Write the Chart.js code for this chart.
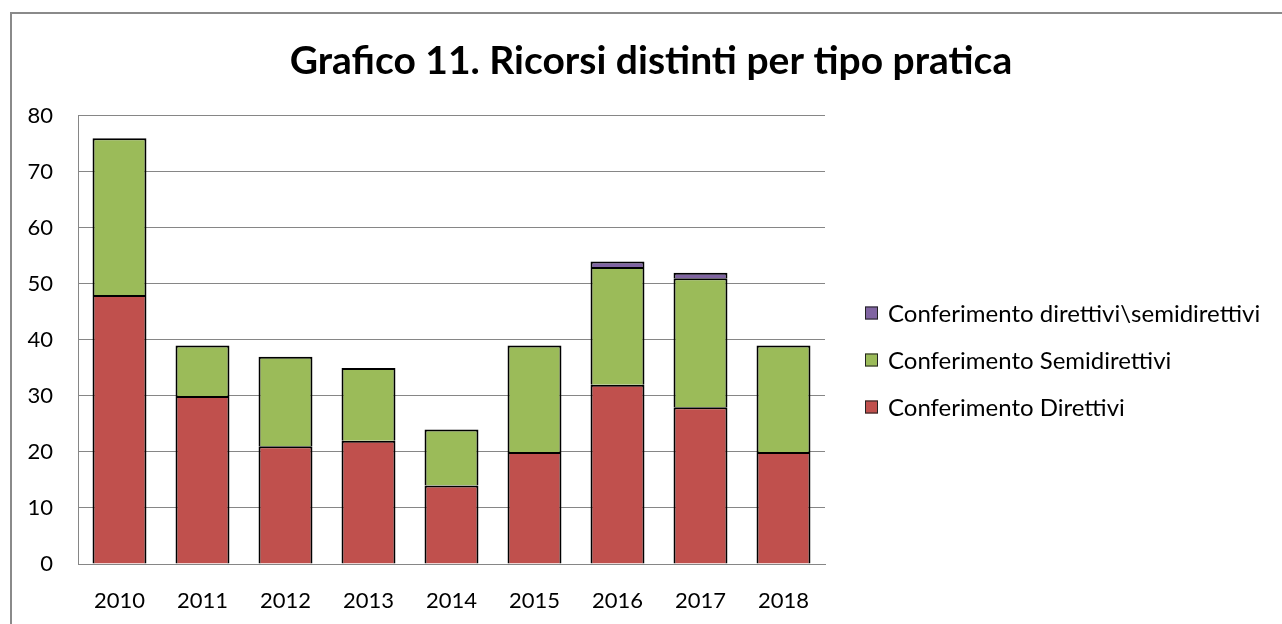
<!DOCTYPE html>
<html>
<head>
<meta charset="utf-8">
<script src="https://cdn.jsdelivr.net/npm/chart.js@4.4.1/dist/chart.umd.min.js"></script>
<style>
    html, body { margin: 0; padding: 0; background: #fff; }
    canvas { display: block; }
</style>
</head>
<body>
<canvas id="ricorsiChart" width="1282" height="624"></canvas>
<script>
const years = ['2010', '2011', '2012', '2013', '2014', '2015', '2016', '2017', '2018'];
const direttivi = [48, 30, 21, 22, 14, 20, 32, 28, 20];
const semidirettivi = [28, 9, 16, 13, 10, 19, 21, 23, 19];
const direttiviSemidirettivi = [null, null, null, null, null, null, 1, 1, null];
const yTicks = [0, 10, 20, 30, 40, 50, 60, 70, 80];

const FONT = 'Lato, "Liberation Sans", sans-serif';

// grey frame around the whole chart
const framePlugin = {
    id: 'frame',
    beforeDraw(chart) {
        const ctx = chart.ctx;
        ctx.save();
        ctx.fillStyle = '#fff';
        ctx.fillRect(0, 0, chart.width, chart.height);
        ctx.strokeStyle = '#8a8a8a';
        ctx.lineWidth = 2;
        ctx.strokeRect(11, 13, chart.width + 20, chart.height + 20);
        ctx.restore();
    }
};

// legend drawn by hand: the built-in one is capped at a quarter of the width
const sideLegend = {
    id: 'sideLegend',
    afterDraw(chart, args, opts) {
        const ctx = chart.ctx;
        const x = chart.chartArea.right + opts.offset;
        const items = chart.data.datasets.slice().reverse();
        ctx.save();
        ctx.font = '24px ' + FONT;
        ctx.textBaseline = 'middle';
        items.forEach((ds, i) => {
            const y = opts.top + i * opts.spacing;
            ctx.fillStyle = ds.backgroundColor;
            ctx.fillRect(x, y - 6.5, 13, 13);
            ctx.strokeStyle = '#222';
            ctx.lineWidth = 1;
            ctx.strokeRect(x + 0.5, y - 6, 12, 12);
            ctx.fillStyle = '#000';
            ctx.fillText(ds.label, x + 23, y + 1);
        });
        ctx.restore();
    }
};

function drawChart() {
    const ctx = document.getElementById('ricorsiChart').getContext('2d');

    new Chart(ctx, {
        type: 'bar',
        data: {
            labels: years,
            datasets: [{
                label: 'Conferimento Direttivi',
                data: direttivi,
                backgroundColor: '#C0504D',
                borderColor: '#000',
                borderWidth: 2,
            }, {
                label: 'Conferimento Semidirettivi',
                data: semidirettivi,
                backgroundColor: '#9BBB59',
                borderColor: '#000',
                borderWidth: 2,
            }, {
                label: 'Conferimento direttivi\\semidirettivi',
                data: direttiviSemidirettivi,
                backgroundColor: '#8064A2',
                borderColor: '#000',
                borderWidth: 2,
            }]
        },
        options: {
            responsive: false,
            animation: false,
            barPercentage: 0.65,
            categoryPercentage: 1,
            layout: { padding: { left: 20, right: 0, top: 0, bottom: 0 } },
            scales: {
                x: {
                    stacked: true,
                    grid: { display: false },
                    border: { color: '#868686', width: 1 },
                    ticks: { color: '#000', font: { family: FONT, size: 22 }, padding: 16 },
                    afterFit(scale) { scale.height = 60; }
                },
                y: {
                    stacked: true,
                    min: 0,
                    max: 80,
                    afterBuildTicks(scale) { scale.ticks = yTicks.map(v => ({ value: v })); },
                    grid: { color: '#868686', drawTicks: false },
                    border: { color: '#868686', width: 1 },
                    ticks: { color: '#000', font: { family: FONT, size: 22 }, padding: 25 },
                    afterFit(scale) { scale.width = 58; }
                },
                // empty axis, reserves the room on the right for the legend
                side: {
                    position: 'right',
                    grid: { display: false },
                    border: { display: false },
                    ticks: { display: false },
                    afterFit(scale) { scale.width = 457; }
                }
            },
            plugins: {
                title: {
                    display: true,
                    text: 'Grafico 11. Ricorsi distinti per tipo pratica',
                    color: '#000',
                    font: { family: FONT, size: 39, weight: 'bold' },
                    padding: { top: 38, bottom: 31 }
                },
                legend: { display: false },
                sideLegend: { offset: 40, top: 313, spacing: 47 },
                tooltip: { enabled: false }
            }
        },
        plugins: [framePlugin, sideLegend]
    });
}

Promise.all([
    document.fonts.load('22px Lato'),
    document.fonts.load('bold 39px Lato')
]).then(drawChart, drawChart);
</script>
</body>
</html>
